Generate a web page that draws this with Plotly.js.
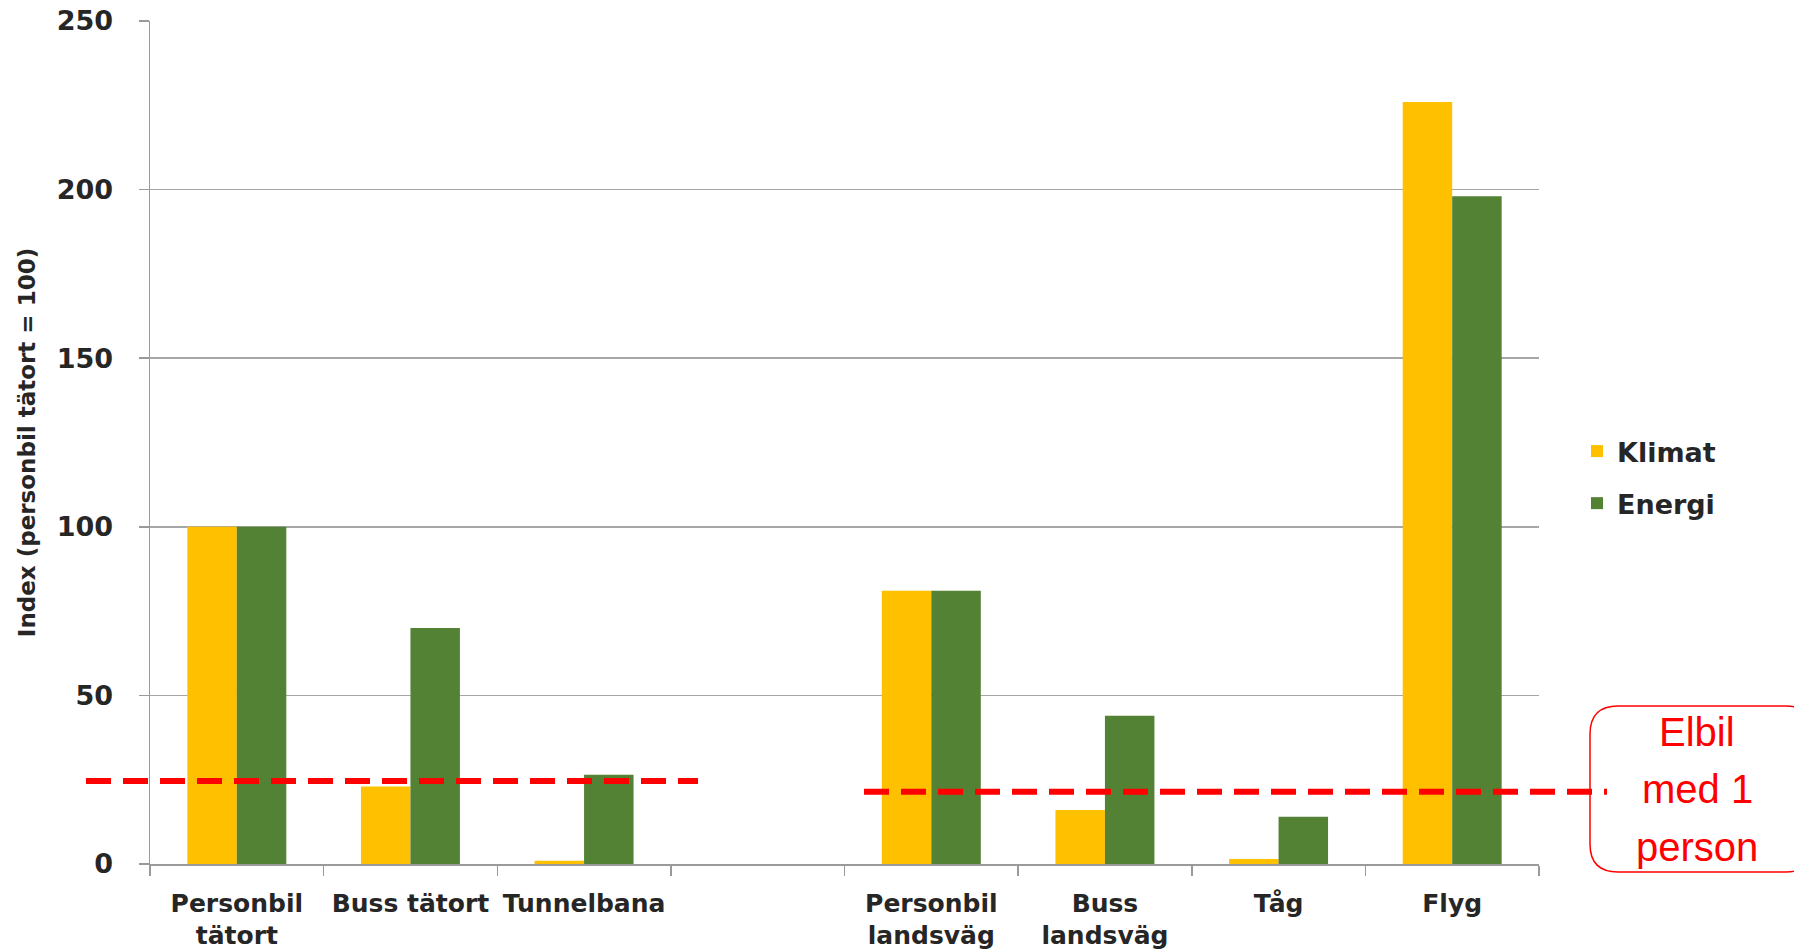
<!DOCTYPE html>
<html>
<head>
<meta charset="utf-8">
<script src="https://cdn.plot.ly/plotly-3.0.1.min.js"></script>
<style>html,body{margin:0;padding:0;background:#fff;}#chart{width:1794px;height:950px;}</style>
</head>
<body>
<div id="chart"></div>
<script>
// ---- data ----
const categories = ["Personbil<br>tätort", "Buss tätort", "Tunnelbana", " ", "Personbil<br>landsväg", "Buss<br>landsväg", "Tåg", "Flyg"];
const klimat = [100, 23, 1, null, 81, 16, 1.5, 226];
const energi = [100, 70, 26.5, null, 81, 44, 14, 198];
const seriesNames = ["Klimat", "Energi"];
const yTickVals = [0, 50, 100, 150, 200, 250];
const elbilTatort = 24.6;     // Elbil level, urban group
const elbilLandsvag = 21.4;   // Elbil level, rural group
const elbilLines = ["Elbil", "med 1", "person"];
const yTitle = "Index (personbil tätort = 100)";

// ---- layout geometry ----
const W = 1794, H = 950;
const M = {l: 150, r: 255, t: 21, b: 86};
const plotW = W - M.l - M.r, plotH = H - M.t - M.b;
const px = x => (x - M.l) / plotW;
const py = y => (H - M.b - y) / plotH;

function roundRect(x0, y0, x1, y1, r) {
  const p = (x, y) => px(x).toFixed(5) + "," + py(y).toFixed(5);
  return "M" + p(x0 + r, y0) + " L" + p(x1 - r, y0) + " Q" + p(x1, y0) + " " + p(x1, y0 + r) +
    " L" + p(x1, y1 - r) + " Q" + p(x1, y1) + " " + p(x1 - r, y1) +
    " L" + p(x0 + r, y1) + " Q" + p(x0, y1) + " " + p(x0, y1 - r) +
    " L" + p(x0, y0 + r) + " Q" + p(x0, y0) + " " + p(x0 + r, y0) + " Z";
}

const boldFont = "DejaVu Sans, sans-serif";
const traces = [
  {type: "bar", name: seriesNames[0], x: categories, y: klimat, marker: {color: "#FFC000"}, legendgroup: "a"},
  {type: "bar", name: seriesNames[1], x: categories, y: energi, marker: {color: "#548235"}, legendgroup: "b"}
];

const lineY = [732, 789, 847];
const annotations = elbilLines.map((t, i) => ({
  xref: "paper", yref: "paper", x: px(1697), y: py(lineY[i]), xanchor: "center", yanchor: "middle",
  text: t, showarrow: false, align: "center",
  font: {family: "Liberation Sans, Arial, sans-serif", size: 40, color: "#FF0000"}
}));

const layout = {
  width: W, height: H,
  margin: M,
  paper_bgcolor: "#fff", plot_bgcolor: "#fff",
  barmode: "group", bargap: 0.43, bargroupgap: 0,
  font: {family: boldFont, color: "#262626"},
  xaxis: {
    type: "category",
    tickson: "boundaries", ticks: "outside", ticklen: 10, tickcolor: "#9a9a9a", tickwidth: 1.5,
    showline: true, linecolor: "#9a9a9a", linewidth: 1.5,
    showgrid: false,
    tickfont: {family: boldFont, size: 25, color: "#262626", weight: "bold"},
    ticklabelstandoff: 16,
    fixedrange: true
  },
  yaxis: {
    range: [0, 250], tickvals: yTickVals, ticktext: yTickVals.map(String),
    ticks: "outside", ticklen: 10, tickcolor: "#9a9a9a", tickwidth: 1.5,
    showline: true, linecolor: "#9a9a9a", linewidth: 1.5,
    showgrid: true, gridcolor: "#a6a6a6", gridwidth: 1.5,
    zeroline: false,
    tickfont: {family: boldFont, size: 27, color: "#262626", weight: "bold"},
    ticklabelstandoff: 20,
    title: {text: yTitle, font: {family: boldFont, size: 23, color: "#262626", weight: "bold"}, standoff: 14},
    automargin: false,
    fixedrange: true
  },
  showlegend: true,
  legend: {
    xref: "container", yref: "container",
    x: 1577 / W, y: 1 - 427 / H, xanchor: "left", yanchor: "top",
    font: {family: boldFont, size: 27, color: "#262626", weight: "bold"},
    traceorder: "grouped", tracegroupgap: 14,
    bgcolor: "rgba(0,0,0,0)"
  },
  shapes: [
    {type: "line", xref: "paper", yref: "y", x0: px(86), x1: px(698), y0: elbilTatort, y1: elbilTatort,
     line: {color: "#FF0000", width: 6, dash: "25px,12px"}},
    {type: "line", xref: "paper", yref: "y", x0: px(864), x1: px(1607), y0: elbilLandsvag, y1: elbilLandsvag,
     line: {color: "#FF0000", width: 6, dash: "25px,12px"}},
    {type: "path", xref: "paper", yref: "paper", path: roundRect(1590, 706, 1814, 872, 28),
     line: {color: "#FF0000", width: 1.5}, fillcolor: "rgba(0,0,0,0)"}
  ],
  annotations: annotations
};

Plotly.newPlot("chart", traces, layout, {displayModeBar: false, staticPlot: true});
</script>
</body>
</html>
